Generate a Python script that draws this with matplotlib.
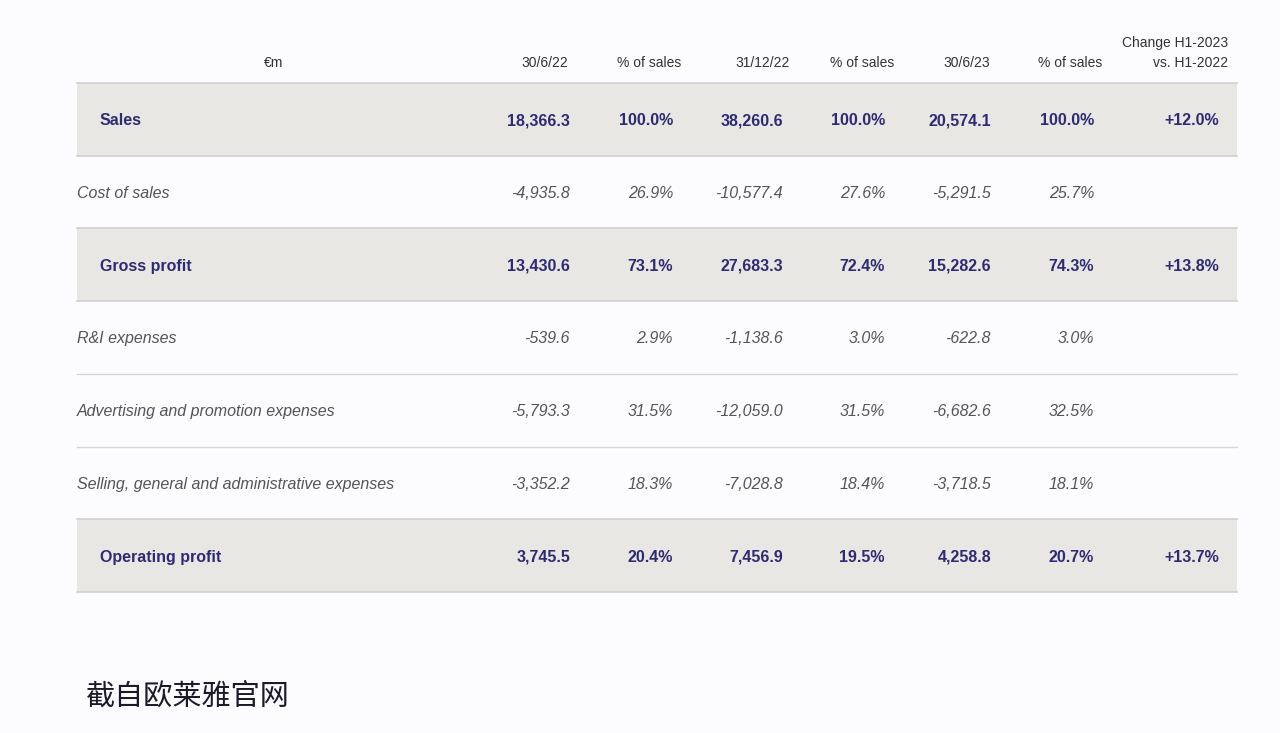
import matplotlib.pyplot as plt
from matplotlib.patches import Rectangle

plt.rcParams['font.family'] = ['Liberation Sans', 'DejaVu Sans']

labels = ['Sales', 'Cost of sales', 'Gross profit', 'R&I expenses',
          'Advertising and promotion expenses',
          'Selling, general and administrative expenses', 'Operating profit']
bold_rows = [True, False, True, False, False, False, True]
h1_2022 = [18366.3, -4935.8, 13430.6, -539.6, -5793.3, -3352.2, 3745.5]
h1_2022_pct = [100.0, 26.9, 73.1, 2.9, 31.5, 18.3, 20.4]
fy_2022 = [38260.6, -10577.4, 27683.3, -1138.6, -12059.0, -7028.8, 7456.9]
fy_2022_pct = [100.0, 27.6, 72.4, 3.0, 31.5, 18.4, 19.5]
h1_2023 = [20574.1, -5291.5, 15282.6, -622.8, -6682.6, -3718.5, 4258.8]
h1_2023_pct = [100.0, 25.7, 74.3, 3.0, 32.5, 18.1, 20.7]
change = [12.0, None, 13.8, None, None, None, 13.7]
headers = ['30/6/22', '% of sales', '31/12/22', '% of sales', '30/6/23', '% of sales']

navy = '#2f2b73'
grey = '#555555'
shade = '#e9e7e3'

fig = plt.figure(figsize=(12.8, 7.33), dpi=100)
fig.patch.set_facecolor('#fcfcfe')
ax = fig.add_axes([0, 0, 1, 1])
ax.set_xlim(0, 1280)
ax.set_ylim(733, 0)
ax.axis('off')

left, right = 77, 1237
row_h = 72.7
top = 83
# right edges of value columns
val_x = [570, 673, 783, 885, 991, 1094]
head_x = [568, 681, 790, 894, 990, 1102]
change_x = 1219

# header
hkw = dict(va='baseline', fontsize=10, color='#333333')
ax.text(274, 67, '€m', ha='center', **hkw)
for hx, h in zip(head_x, headers):
    ax.text(hx, 67, h, ha='right', **hkw)
ax.text(1228, 47, 'Change H1-2023', ha='right', **hkw)
ax.text(1228, 67, 'vs. H1-2022', ha='right', **hkw)

cols = [h1_2022, h1_2022_pct, fy_2022, fy_2022_pct, h1_2023, h1_2023_pct]
for i, lab in enumerate(labels):
    y0 = top + i * row_h
    yb = y0 + row_h / 2 + 6
    if bold_rows[i]:
        ax.add_patch(Rectangle((left, y0), right - left, row_h, color=shade, lw=0, zorder=0))
        ax.plot([left, right], [y0, y0], color='#cfcfd4', lw=1.2)
        ax.plot([left, right], [y0 + row_h, y0 + row_h], color='#cfcfd4', lw=1.2)
        kw = dict(fontsize=11.5, fontweight='bold', color=navy)
        lx = 100
    else:
        kw = dict(fontsize=11.5, style='italic', color=grey)
        lx = 77
        if i in (3, 4):
            ax.plot([left, right], [y0 + row_h, y0 + row_h], color='#d5d5da', lw=1)
    ax.text(lx, yb, lab, ha='left', va='baseline', **kw)
    for j, c in enumerate(cols):
        v = c[i]
        s = f'{v:.1f}%' if j % 2 else f'{v:,.1f}'
        ax.text(val_x[j], yb, s, ha='right', va='baseline', **kw)
    if change[i] is not None:
        ax.text(change_x, yb, f'+{change[i]:.1f}%', ha='right', va='baseline', **kw)

ax.text(86, 698, '截自欧莱雅官网', ha='left', va='center', fontsize=21,
        color='#1c1a2a', family=['Noto Sans CJK SC', 'DejaVu Sans'])

fig.savefig('out.png', dpi=100, facecolor=fig.get_facecolor())
